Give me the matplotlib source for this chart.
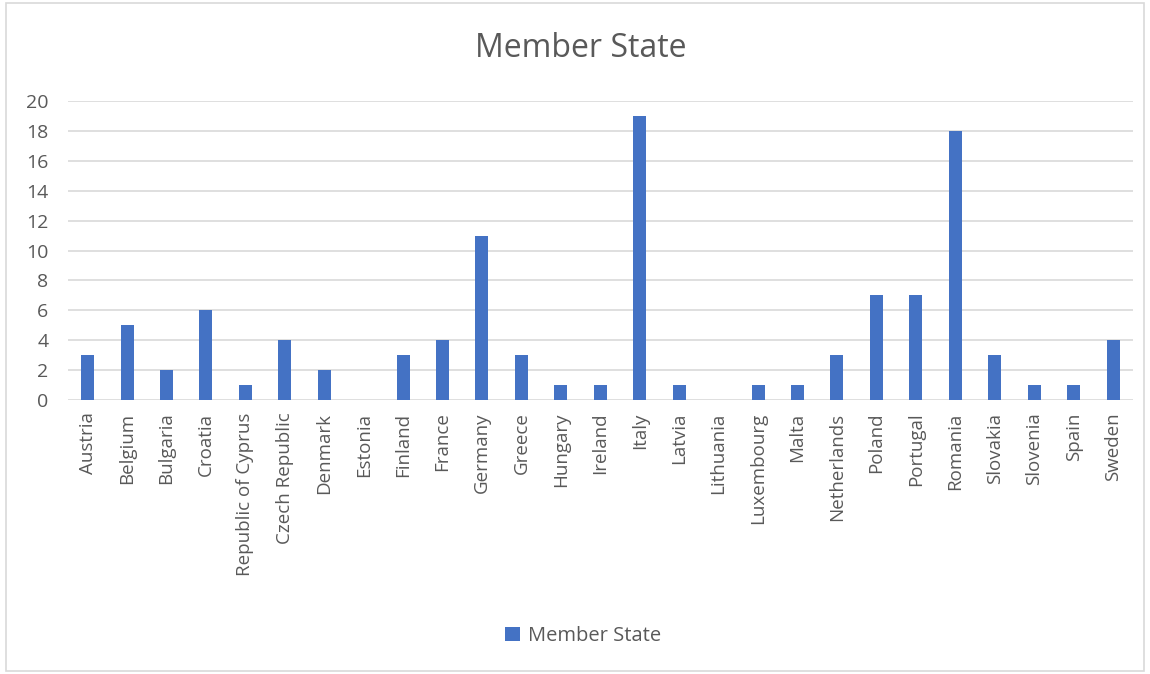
import matplotlib.pyplot as plt
import numpy as np
from matplotlib.patches import Rectangle

countries = ['Austria', 'Belgium', 'Bulgaria', 'Croatia', 'Republic of Cyprus',
             'Czech Republic', 'Denmark', 'Estonia', 'Finland', 'France',
             'Germany', 'Greece', 'Hungary', 'Ireland', 'Italy', 'Latvia',
             'Lithuania', 'Luxembourg', 'Malta', 'Netherlands', 'Poland',
             'Portugal', 'Romania', 'Slovakia', 'Slovenia', 'Spain', 'Sweden']
counts = [3, 5, 2, 6, 1, 4, 2, 0, 3, 4, 11, 3, 1, 1, 19, 1, 0, 1, 1, 3,
          7, 7, 18, 3, 1, 1, 4]
y_ticks = list(range(0, 21, 2))

plt.rcParams['font.family'] = ['Open Sans', 'DejaVu Sans']
text_col = '#595959'

fig = plt.figure(figsize=(11.5, 6.74), dpi=100)
fig.patches.append(Rectangle((0.005, 0.005), 0.99, 0.99, transform=fig.transFigure,
                             fill=False, edgecolor='#d9d9d9', linewidth=1.2))

ax = fig.add_axes([0.059, 0.4065, 0.926, 0.4435])
x = np.arange(len(countries))
ax.bar(x, counts, width=0.33, color='#4472C4', zorder=3, label='Member State')

ax.set_xlim(-0.5, len(countries) - 0.5)
ax.set_ylim(0, 20)
ax.set_yticks(y_ticks)
ax.set_xticks(x)
ax.set_xticklabels(countries, rotation=90, fontsize=13.5, color=text_col)
ax.tick_params(axis='y', labelsize=14, labelcolor=text_col, length=0, pad=14)
ax.tick_params(axis='x', length=0, pad=9)
ax.grid(axis='y', color='#d9d9d9', linewidth=1.2, zorder=0)
for s in ax.spines.values():
    s.set_visible(False)

fig.text(0.505, 0.928, 'Member State', ha='center', va='center',
         fontsize=23, color=text_col)
fig.legend(loc='center', bbox_to_anchor=(0.507, 0.056), frameon=False,
           fontsize=14.5, labelcolor=text_col, handlelength=0.7, handleheight=0.7,
           handletextpad=0.4)

fig.savefig('out.png', dpi=100)
